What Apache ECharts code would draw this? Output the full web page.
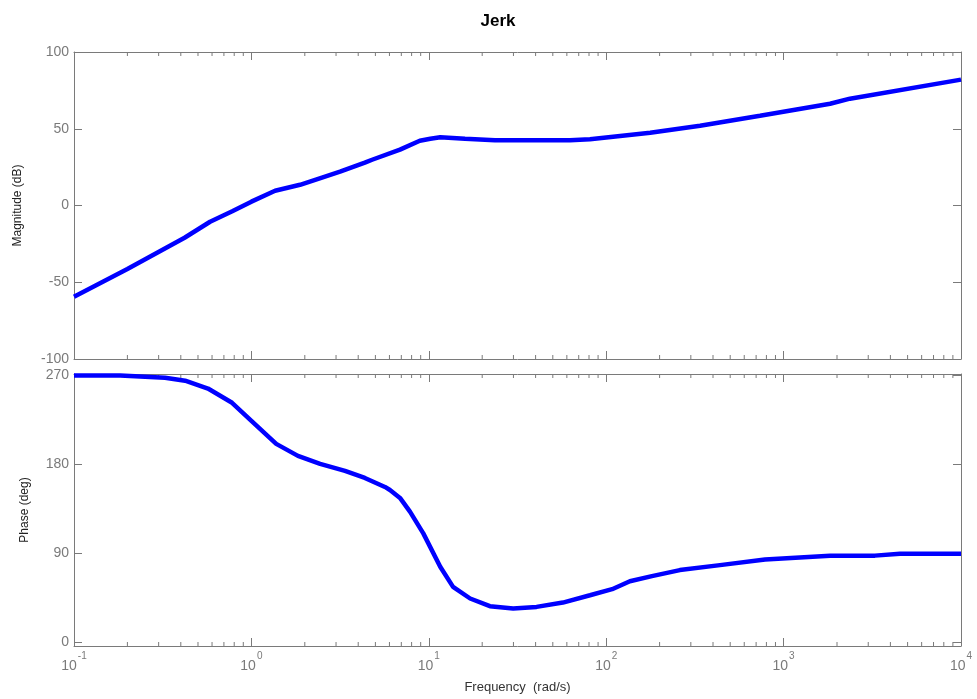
<!DOCTYPE html>
<html>
<head>
<meta charset="utf-8">
<script src="https://cdn.jsdelivr.net/npm/echarts@6/dist/echarts.min.js"></script>
<style>
html,body{margin:0;padding:0;background:#fff;}
#c{width:977px;height:699px;}
</style>
</head>
<body>
<div id="c"></div>
<script>
// ---- data ----
const titleText = 'Jerk';
const magFreq = [0.1, 0.2, 0.42, 0.585, 0.78, 1.0, 1.36, 1.88, 2.5, 3.16, 4.36, 4.79, 6.88, 8.9, 10.2, 11.6, 16, 23.6, 40, 62.5, 81, 177, 338, 736, 1828, 2366, 10000];
const magDb   = [-59.4, -41.4, -21, -10.6, -3.8, 2.5, 9.6, 13.5, 18.2, 22, 27.9, 29.8, 36.4, 42.2, 43.5, 44.5, 43.5, 42.5, 42.5, 42.5, 43.2, 47.4, 52, 58.5, 66.3, 69.6, 82];
const phaseFreq = [0.1, 0.182, 0.326, 0.423, 0.569, 0.778, 1.0, 1.38, 1.83, 2.44, 3.37, 4.36, 5.66, 6.04, 6.88, 7.83, 9.31, 11.6, 13.7, 17.1, 22.1, 29.9, 40.5, 57, 81, 108, 136, 181, 260, 438, 786, 1828, 3272, 4530, 10000];
const phaseDeg  = [270, 270, 267.7, 264.6, 256.7, 242.3, 224.1, 200.8, 188.7, 180.6, 173.5, 166.4, 157.3, 154.2, 146.2, 132.3, 110.4, 76.6, 56.3, 44.6, 36.8, 34.4, 36.1, 40.5, 47.9, 54, 62, 67.2, 73.3, 78.3, 83.9, 87.9, 87.9, 89.9, 89.9];
const phaseTicks = [0, 90, 180, 270];
const minorMult = [2, 3, 4, 5, 6, 7, 8, 9];
const decades = [0.1, 1, 10, 100, 1000];
const xLabel = 'Frequency  (rad/s)';
const magLabel = 'Magnitude (dB)';
const phaseLabel = 'Phase (deg)';

const axisColor = '#7a7a7a';
const labelColor = '#7a7a7a';
const font = 'Liberation Sans, Arial, sans-serif';

const minorTicks = [];
decades.forEach(d => minorMult.forEach(m => minorTicks.push([+(d * m).toPrecision(3), 0])));

function xAxisDef(grid, pos, showLabel) {
  return {
    type: 'log', logBase: 10, min: 0.1, max: 10000, gridIndex: grid, position: pos,
    axisLine: {show: true, onZero: false, lineStyle: {color: axisColor, width: 1}},
    axisTick: {show: true, inside: true, length: 8, lineStyle: {color: axisColor}},
    splitLine: {show: false},
    axisLabel: showLabel ? {
      show: true, margin: 5,
      formatter: v => '{b|10}{s|' + Math.round(Math.log10(v)) + '}',
      rich: {
        b: {fontSize: 14, color: labelColor, fontFamily: font, lineHeight: 22, verticalAlign: 'bottom'},
        s: {fontSize: 10, color: labelColor, fontFamily: font, lineHeight: 22, verticalAlign: 'top', padding: [0, 0, 0, 1]}
      }
    } : {show: false},
    name: showLabel ? xLabel : '',
    nameLocation: 'middle', nameGap: 35,
    nameTextStyle: {fontSize: 13, color: '#333', fontFamily: font}
  };
}

function minorSeries(xi, yi, yLo, yHi) {
  return {
    type: 'custom', xAxisIndex: xi, yAxisIndex: yi, silent: true, clip: false, z: 1,
    data: minorTicks,
    renderItem: (params, api) => {
      const v = api.value(0);
      const b = api.coord([v, yLo]);
      const t = api.coord([v, yHi]);
      const st = {stroke: axisColor, lineWidth: 1};
      return {type: 'group', children: [
        {type: 'line', shape: {x1: b[0], y1: b[1], x2: b[0], y2: b[1] - 4}, style: st},
        {type: 'line', shape: {x1: t[0], y1: t[1], x2: t[0], y2: t[1] + 4}, style: st}
      ]};
    }
  };
}

const chart = echarts.init(document.getElementById('c'), null, {renderer: 'canvas'});
chart.setOption({
  backgroundColor: '#fff',
  animation: false,
  title: {
    text: titleText, left: 493, top: 8, textAlign: 'center',
    textStyle: {fontSize: 17, fontWeight: 'bold', color: '#000', fontFamily: font}
  },
  grid: [
    {left: 74, right: 16, top: 52, height: 307},
    {left: 74, right: 16, top: 374, height: 272}
  ],
  xAxis: [
    xAxisDef(0, 'bottom', false),
    xAxisDef(0, 'top', false),
    xAxisDef(1, 'bottom', true),
    xAxisDef(1, 'top', false)
  ],
  yAxis: [
    {
      type: 'value', gridIndex: 0, position: 'left', min: -100, max: 100, interval: 50,
      axisLine: {show: true, onZero: false, lineStyle: {color: axisColor}},
      axisTick: {show: true, inside: true, length: 8, lineStyle: {color: axisColor}},
      axisLabel: {color: labelColor, fontSize: 14, fontFamily: font, margin: 5},
      splitLine: {show: false},
      name: magLabel, nameLocation: 'middle', nameGap: 50,
      nameTextStyle: {fontSize: 12, color: '#222', fontFamily: font}
    },
    {
      type: 'value', gridIndex: 0, position: 'right', min: -100, max: 100, interval: 50,
      axisLine: {show: true, onZero: false, lineStyle: {color: axisColor}},
      axisTick: {show: true, inside: true, length: 8, lineStyle: {color: axisColor}},
      axisLabel: {show: false}, splitLine: {show: false}
    },
    {
      type: 'value', gridIndex: 1, position: 'left', min: -3.4, max: 271.4,
      axisLine: {show: true, onZero: false, lineStyle: {color: axisColor}},
      axisTick: {show: true, inside: true, length: 8, lineStyle: {color: axisColor}, customValues: phaseTicks},
      axisLabel: {color: labelColor, fontSize: 14, fontFamily: font, margin: 5, customValues: phaseTicks},
      splitLine: {show: false},
      name: phaseLabel, nameLocation: 'middle', nameGap: 43,
      nameTextStyle: {fontSize: 12, color: '#222', fontFamily: font}
    },
    {
      type: 'value', gridIndex: 1, position: 'right', min: -3.4, max: 271.4,
      axisLine: {show: true, onZero: false, lineStyle: {color: axisColor}},
      axisTick: {show: true, inside: true, length: 8, lineStyle: {color: axisColor}, customValues: phaseTicks},
      axisLabel: {show: false, customValues: phaseTicks}, splitLine: {show: false}
    }
  ],
  series: [
    {
      type: 'line', xAxisIndex: 0, yAxisIndex: 0, showSymbol: false, symbol: 'none',
      data: magFreq.map((f, i) => [f, magDb[i]]),
      lineStyle: {color: '#0000ff', width: 4.5}, z: 3
    },
    {
      type: 'line', xAxisIndex: 2, yAxisIndex: 2, showSymbol: false, symbol: 'none',
      data: phaseFreq.map((f, i) => [f, phaseDeg[i]]),
      lineStyle: {color: '#0000ff', width: 4.5}, z: 3
    },
    minorSeries(0, 0, -100, 100),
    minorSeries(2, 2, -3.4, 271.4)
  ]
});
</script>
</body>
</html>
